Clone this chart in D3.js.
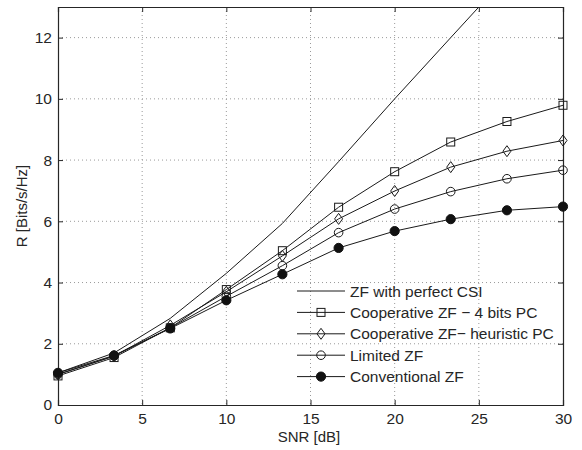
<!DOCTYPE html>
<html>
<head>
<meta charset="utf-8">
<script src="https://cdn.jsdelivr.net/npm/d3@7"></script>
<style>
  body { margin: 0; background: #fff; }
  svg text { font-family: "Liberation Sans", Arial, sans-serif; fill: #262626; }
</style>
</head>
<body>
<svg id="chart" width="582" height="450"></svg>
<script>
// SNR sample points (dB)
var snr = [0, 3.33, 6.67, 10, 13.33, 16.67, 20, 23.33, 26.67, 30];

var perfectCSI   = [1.05, 1.70, 2.83, 4.30, 5.93, 7.95, 10.0, 12.0, 14.0, 16.0];
var coop4bits    = [0.95, 1.55, 2.52, 3.77, 5.04, 6.46, 7.62, 8.59, 9.26, 9.79];
var coopHeur     = [1.00, 1.60, 2.60, 3.70, 4.87, 6.08, 6.99, 7.77, 8.29, 8.64];
var limitedZF    = [1.00, 1.60, 2.52, 3.55, 4.55, 5.63, 6.40, 6.97, 7.39, 7.67];
var conventional = [1.05, 1.62, 2.50, 3.42, 4.27, 5.13, 5.68, 6.07, 6.36, 6.48];

var seriesNames = ["ZF with perfect CSI", "Cooperative ZF \u2212 4 bits PC",
                   "Cooperative ZF\u2212 heuristic PC", "Limited ZF", "Conventional ZF"];
var seriesMarkers = ["none", "square", "diamond", "circle", "dot"];

var xTicks = [0, 5, 10, 15, 20, 25, 30];
var yTicks = [0, 2, 4, 6, 8, 10, 12];

var svg = d3.select("#chart");
var margin = {left: 58, right: 19, top: 7, bottom: 45};
var w = 582 - margin.left - margin.right;
var h = 450 - margin.top - margin.bottom;
var fs = 15.5;

var x = d3.scaleLinear().domain([0, 30]).range([0, w]);
var y = d3.scaleLinear().domain([0, 13]).range([h, 0]);

var g = svg.append("g").attr("transform", "translate(" + margin.left + "," + margin.top + ")");

svg.append("defs").append("clipPath").attr("id", "clip")
    .append("rect").attr("width", w).attr("height", h);

// grid
g.append("g").selectAll("line").data(xTicks.slice(1, -1)).enter().append("line")
    .attr("x1", d => x(d)).attr("x2", d => x(d))
    .attr("y1", 0).attr("y2", h)
    .attr("stroke", "#9a9a9a").attr("stroke-dasharray", "1,3");
g.append("g").selectAll("line").data(yTicks.slice(1)).enter().append("line")
    .attr("x1", 0).attr("x2", w)
    .attr("y1", d => y(d)).attr("y2", d => y(d))
    .attr("stroke", "#9a9a9a").attr("stroke-dasharray", "1,3");

// axes, ticks inward on all four sides
var tickLen = 5;
var xb = g.append("g").attr("transform", "translate(0," + h + ")")
    .call(d3.axisBottom(x).tickValues(xTicks).tickSize(-tickLen).tickPadding(8));
var xt = g.append("g")
    .call(d3.axisTop(x).tickValues(xTicks).tickSize(-tickLen).tickFormat(""));
var yl = g.append("g")
    .call(d3.axisLeft(y).tickValues(yTicks).tickSize(-tickLen).tickPadding(6));
var yr = g.append("g").attr("transform", "translate(" + w + ",0)")
    .call(d3.axisRight(y).tickValues(yTicks).tickSize(-tickLen).tickFormat(""));
[xb, xt, yl, yr].forEach(function (a) {
    a.selectAll("path").attr("stroke", "#262626").attr("stroke-width", 1.2);
    a.selectAll("line").attr("stroke", "#262626");
    a.selectAll("text").attr("font-size", fs).attr("fill", "#262626")
        .style("font-family", "Liberation Sans, Arial, sans-serif");
});

// lines
var allData = [perfectCSI, coop4bits, coopHeur, limitedZF, conventional];
var line = d3.line().x((d, i) => x(snr[i])).y(d => y(d));
var plot = g.append("g").attr("clip-path", "url(#clip)");
allData.forEach(function (vals) {
    plot.append("path").datum(vals)
        .attr("d", line)
        .attr("fill", "none").attr("stroke", "#1a1a1a").attr("stroke-width", 1);
});

function drawMarker(sel, type, cx, cy) {
    if (type === "square") {
        sel.append("rect").attr("x", cx - 4).attr("y", cy - 4)
            .attr("width", 8).attr("height", 8)
            .attr("fill", "none").attr("stroke", "#1a1a1a");
    } else if (type === "diamond") {
        sel.append("path")
            .attr("d", "M" + cx + "," + (cy - 5.5) + "L" + (cx + 4) + "," + cy +
                       "L" + cx + "," + (cy + 5.5) + "L" + (cx - 4) + "," + cy + "Z")
            .attr("fill", "none").attr("stroke", "#1a1a1a");
    } else if (type === "circle") {
        sel.append("circle").attr("cx", cx).attr("cy", cy).attr("r", 4.3)
            .attr("fill", "none").attr("stroke", "#1a1a1a");
    } else if (type === "dot") {
        sel.append("circle").attr("cx", cx).attr("cy", cy).attr("r", 4.6)
            .attr("fill", "#111").attr("stroke", "#111");
    }
}

var markerLayer = g.append("g");
allData.forEach(function (vals, s) {
    if (seriesMarkers[s] === "none") return;
    vals.forEach(function (v, i) {
        drawMarker(markerLayer, seriesMarkers[s], x(snr[i]), y(v));
    });
});

// axis labels
svg.append("text").attr("x", 309).attr("y", 442)
    .attr("text-anchor", "middle").attr("font-size", 15).text("SNR [dB]");
svg.append("text").attr("transform", "translate(27," + (margin.top + h / 2) + ") rotate(-90)")
    .attr("text-anchor", "middle").attr("font-size", 15).text("R [Bits/s/Hz]");

// legend
var legX0 = 297 - margin.left, legX1 = 345 - margin.left, legTx = 350 - margin.left;
var legY0 = 291 - margin.top, legDy = 21.4;
var leg = g.append("g");
seriesNames.forEach(function (name, i) {
    var ly = legY0 + i * legDy;
    leg.append("line").attr("x1", legX0).attr("x2", legX1)
        .attr("y1", ly).attr("y2", ly)
        .attr("stroke", "#1a1a1a").attr("stroke-width", 1);
    drawMarker(leg, seriesMarkers[i], (legX0 + legX1) / 2, ly);
    leg.append("text").attr("x", legTx).attr("y", ly + 5.5)
        .attr("font-size", fs).text(name);
});
</script>
</body>
</html>
